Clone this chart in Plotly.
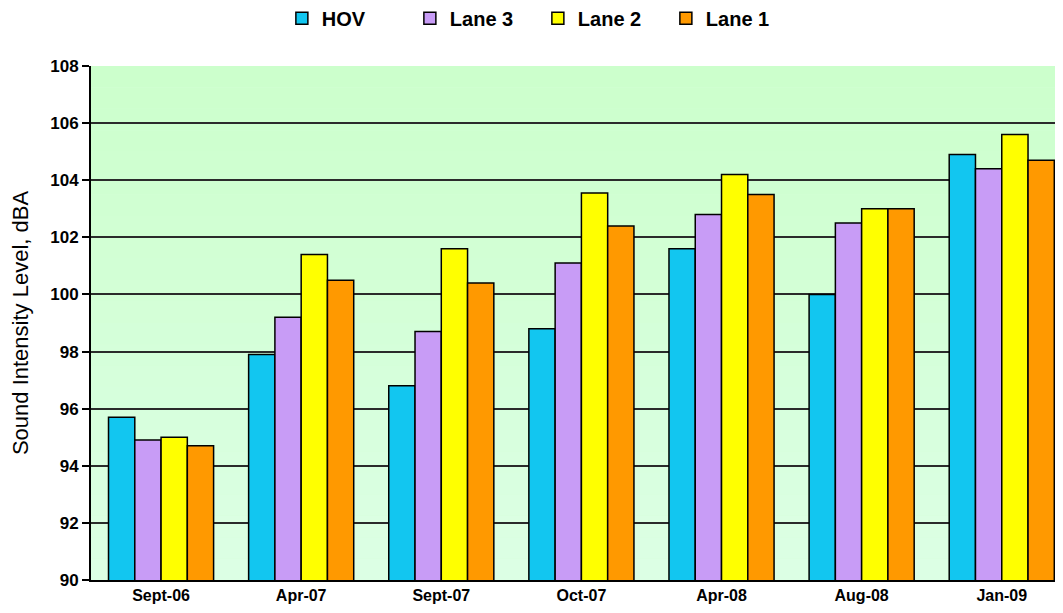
import plotly.graph_objects as go

periods = ["Sept-06", "Apr-07", "Sept-07", "Oct-07", "Apr-08", "Aug-08", "Jan-09"]
hov = [95.7, 97.9, 96.8, 98.8, 101.6, 100.0, 104.9]
lane3 = [94.9, 99.2, 98.7, 101.1, 102.8, 102.5, 104.4]
lane2 = [95.0, 101.4, 101.6, 103.55, 104.2, 103.0, 105.6]
lane1 = [94.7, 100.5, 100.4, 102.4, 103.5, 103.0, 104.7]

series = [
    ("HOV", hov, "#12c6f0"),
    ("Lane 3", lane3, "#c89cf6"),
    ("Lane 2", lane2, "#ffff00"),
    ("Lane 1", lane1, "#ff9900"),
]

FONT = "Liberation Sans, Arial, sans-serif"

fig = go.Figure()
for name, values, color in series:
    fig.add_bar(
        name=name,
        x=periods,
        y=values,
        marker={"color": color, "line": {"color": "#000000", "width": 1.5}},
    )

# light green background fading slightly towards the bottom
steps = 24
top_rgb = (204, 255, 204)
bottom_rgb = (220, 255, 228)
for i in range(steps):
    t = i / (steps - 1)
    r, g, b = (round(a + (c - a) * t) for a, c in zip(top_rgb, bottom_rgb))
    fig.add_shape(
        type="rect",
        xref="paper",
        yref="paper",
        x0=0,
        x1=1,
        y0=1 - (i + 1) / steps,
        y1=1 - i / steps,
        fillcolor=f"rgb({r},{g},{b})",
        line={"width": 0},
        layer="below",
    )

# the page body adds an 8px margin all round, so the figure is sized to fit inside it
fig.update_layout(
    width=1047,
    height=597,
    margin={"l": 83, "r": 0, "t": 58, "b": 25},
    paper_bgcolor="#ffffff",
    plot_bgcolor="#d4ffd8",
    barmode="group",
    bargap=0.25,
    bargroupgap=0,
    font={"family": FONT, "color": "#000000"},
    showlegend=True,
    legend={
        "orientation": "h",
        "x": 0.198,
        "xanchor": "left",
        "y": 0.983,
        "yanchor": "middle",
        "yref": "container",
        "font": {"size": 20, "family": FONT, "weight": "bold"},
        "bgcolor": "rgba(0,0,0,0)",
        "itemwidth": 30,
        "entrywidth": 83,
        "entrywidthmode": "pixels",
    },
)

fig.update_yaxes(
    range=[90, 108],
    dtick=2,
    tick0=90,
    showgrid=True,
    gridcolor="#2b2b2b",
    gridwidth=1.5,
    ticks="outside",
    ticklen=7,
    tickwidth=1.5,
    tickcolor="#000000",
    showline=True,
    linecolor="#000000",
    linewidth=2,
    zeroline=False,
    automargin=False,
    tickfont={"size": 17, "family": FONT, "weight": "bold"},
    title={
        "text": "Sound Intensity Level, dBA",
        "font": {"size": 22, "family": FONT},
        "standoff": 16,
    },
)

fig.update_xaxes(
    range=[-0.5, 6.38],
    showgrid=False,
    showline=True,
    linecolor="#000000",
    linewidth=2,
    ticks="",
    automargin=False,
    tickfont={"size": 16, "family": FONT, "weight": "bold"},
)

fig.write_html("out.html")
